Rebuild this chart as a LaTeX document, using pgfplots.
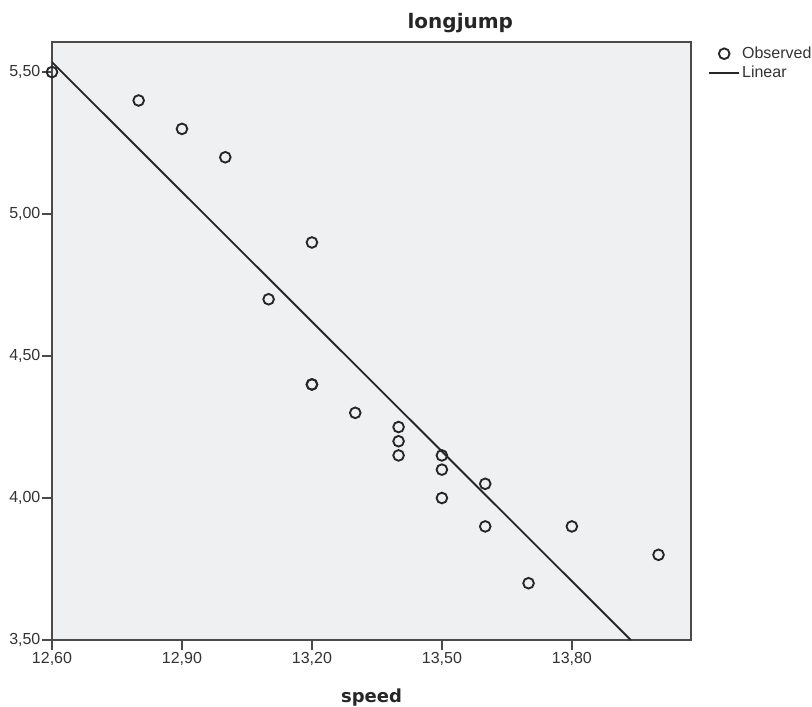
\documentclass[border=0pt]{standalone}
\usepackage{fontspec}
\setmainfont{Liberation Sans}
\newfontfamily\labelfont{DejaVu Sans}
\usepackage{pgfplots}
\pgfplotsset{compat=1.18}
\definecolor{plotbg}{HTML}{EFF0F2}
\definecolor{framegray}{HTML}{4A4A4A}
\definecolor{ink}{HTML}{262626}
\definecolor{ticktext}{HTML}{333333}
\pgfplotsset{
  obs legend/.style={legend image code/.code={\draw[mark repeat=2,mark phase=2,##1] plot coordinates {(0pt,0pt)(11.25pt,0pt)(22.5pt,0pt)};}},
  fit legend/.style={legend image code/.code={\draw[##1] (0pt,0pt) -- (22.5pt,0pt);}}
}

\begin{document}
\begin{tikzpicture}
\path[use as bounding box] (-39pt,-49.5pt) rectangle (570pt,480pt);
\begin{axis}[scale only axis,width=479.25pt,height=448.5pt,
  xmin=12.60,xmax=14.075,ymin=3.50,ymax=5.606,
  axis background/.style={fill=plotbg},
  axis line style={framegray,line width=1.2pt},
  xtick={12.6,12.9,13.2,13.5,13.8},ytick={3.5,4,4.5,5,5.5},
  xtick pos=bottom,ytick pos=left,tick align=outside,major tick length=7.5pt,
  tick style={framegray,line width=1.2pt},
  tick label style={font=\fontsize{12}{14}\selectfont,text=ticktext},
  yticklabel style={inner sep=1pt},xticklabel style={inner sep=1.5pt},
  /pgf/number format/assume math mode=true,
  /pgf/number format/use comma,/pgf/number format/fixed,/pgf/number format/fixed zerofill,/pgf/number format/precision=2,
  scaled x ticks=false,scaled y ticks=false,
  xlabel={speed},
  xlabel style={at={(rel axis cs:0.5,0)},anchor=base,yshift=-46.5pt,font=\labelfont\bfseries\fontsize{13.5}{15}\selectfont,text=ink},
  legend style={draw=none,fill=none,at={(rel axis cs:1,1)},anchor=north west,xshift=12.75pt,yshift=-2pt,
    font=\fontsize{12}{14}\selectfont,text=ticktext,inner sep=0pt,row sep=1pt,
    nodes={inner sep=1.5pt}},
  legend cell align=left,clip mode=individual]
\addplot[only marks,mark=o,mark size=4pt,mark options={ink,line width=1.4pt},obs legend]
  coordinates {(12.60,5.50) (12.80,5.40) (12.90,5.30) (13.00,5.20) (13.10,4.70) (13.20,4.90) (13.20,4.40) (13.20,4.40)
  (13.30,4.30) (13.40,4.25) (13.40,4.20) (13.40,4.15) (13.50,4.15) (13.50,4.10) (13.50,4.00) (13.60,4.05) (13.60,3.90)
  (13.70,3.70) (13.80,3.90) (14.00,3.80)};
\addlegendentry{Observed}
\addplot[ink,line width=1.4pt,fit legend]
  coordinates {(12.60,5.535) (13.936,3.50)};
\addlegendentry{Linear}
\node[anchor=base,font=\labelfont\bfseries\fontsize{15}{17}\selectfont,text=ink] at (rel axis cs:0.639,1) [yshift=9.75pt] {longjump};
\end{axis}
\end{tikzpicture}
\end{document}
